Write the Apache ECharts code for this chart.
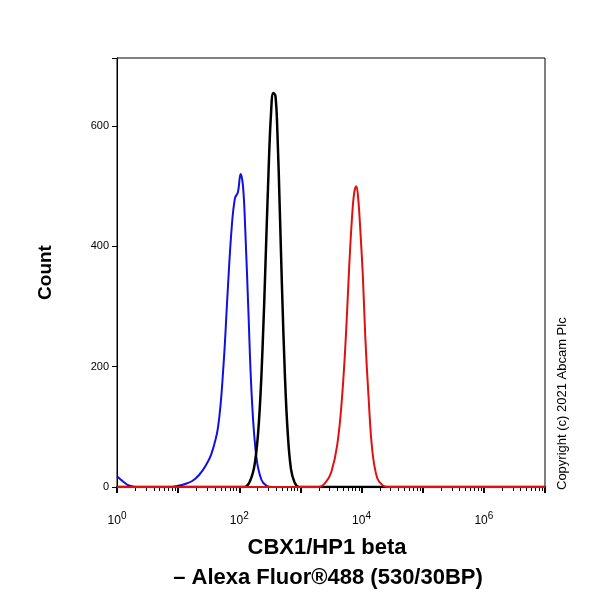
<!DOCTYPE html><html><head><meta charset="utf-8"><script src="https://cdn.jsdelivr.net/npm/echarts@6/dist/echarts.min.js"></script></head><body style="margin:0"><div id="c" style="width:600px;height:600px"></div><script>
const blueX=[1,1.3,1.6,2,3,5,7,10,13,17,22,28,35,45,55,65,75,85,95,105,115,125,140,160,190,230,280,350,1e7];
const blueY=[18,8,2,0,0,0,0,2,5,10,20,35,55,100,200,330,430,480,490,520,500,430,300,150,50,12,2,0,0];
const blackX=[1,120,150,180,210,240,270,300,330,360,390,420,460,500,560,620,700,800,950,1e7];
const blackY=[0,0,10,40,110,230,380,520,620,655,650,590,460,330,180,90,30,8,0,0];
const redX=[1,2000,2600,3200,4000,4800,5600,6300,7000,7600,8200,8800,9500,10500,11500,13000,15000,18000,22000,27000,1e7];
const redY=[0,0,8,25,70,150,260,370,450,490,500,480,430,350,250,150,60,15,3,0,0];
const yTicks=[0,200,400,600];
const mk=(xs,ys)=>xs.map((x,i)=>[x,ys[i]]);
const ch=echarts.init(document.getElementById('c'));
ch.setOption({
grid:{left:117,right:55,top:58,bottom:113},
xAxis:{type:'log',logBase:10,min:1,max:1e7,axisLine:{lineStyle:{color:'#000',width:2}},
 axisTick:{inside:false,length:6,lineStyle:{color:'#000',width:2}},
 minorTick:{show:true,splitNumber:9,length:4,lineStyle:{color:'#000'}},splitLine:{show:false},
 axisLabel:{margin:24,fontSize:12,color:'#000',fontFamily:'Arial',formatter:v=>{const e=Math.round(Math.log10(v));return e%2===0?'10{s|'+e+'}':'';},rich:{s:{fontSize:10,verticalAlign:'top',padding:[0,0,10,0]}}}},
yAxis:{type:'value',min:0,max:713,interval:200,axisLine:{show:true,lineStyle:{color:'#000',width:1}},
 axisTick:{length:5,lineStyle:{color:'#000'}},minorTick:{show:false},splitLine:{show:false},
 axisLabel:{fontSize:11,color:'#000',fontFamily:'Arial',customValues:yTicks},
 name:'Count',nameLocation:'middle',nameGap:62,nameTextStyle:{fontSize:19,fontWeight:'bold',color:'#000',fontFamily:'Arial'}},
graphic:[
 {type:'rect',shape:{x:117,y:58,width:428,height:429},style:{fill:'none',stroke:'#000',lineWidth:1}},
 {type:'text',x:327,y:548,style:{text:'CBX1/HP1 beta',font:'bold 22px Arial',fill:'#000',align:'center',verticalAlign:'middle'}},
 {type:'text',x:328,y:578,style:{text:'– Alexa Fluor®488 (530/30BP)',font:'bold 22px Arial',fill:'#000',align:'center',verticalAlign:'middle'}},
 {type:'text',x:556,y:490,rotation:Math.PI/2,style:{text:'Copyright (c) 2021 Abcam Plc',font:'13px Arial',fill:'#000'}}
],
series:[
 {type:'line',data:mk(blueX,blueY),smooth:0.4,symbol:'none',lineStyle:{color:'#1010e0',width:2},z:3},
 {type:'line',data:mk(blackX,blackY),smooth:0.4,symbol:'none',lineStyle:{color:'#000',width:2.5},z:4},
 {type:'line',data:mk(redX,redY),smooth:0.4,symbol:'none',lineStyle:{color:'#e01010',width:2},z:5}
]});
</script></body></html>
